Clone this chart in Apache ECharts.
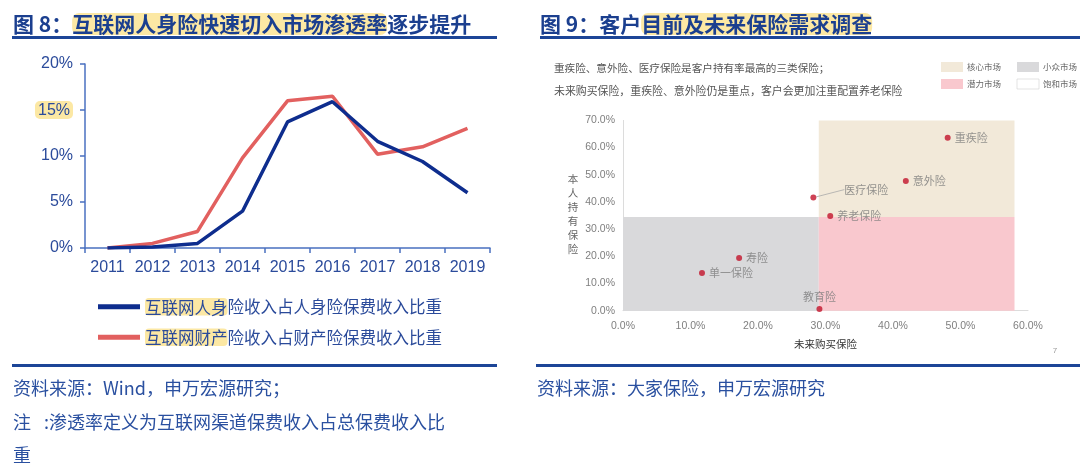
<!DOCTYPE html>
<html><head><meta charset="utf-8">
<script src="https://cdn.jsdelivr.net/npm/echarts@6/dist/echarts.min.js"></script>
<style>html,body{margin:0;padding:0;background:#fff}#c{width:1080px;height:473px}</style>
</head><body><div id="c"></div>
<script>
// ---- Figure 8 data ----
const years = ['2011','2012','2013','2014','2015','2016','2017','2018','2019'];
const lifeShare = [0, 0.1, 0.5, 4.0, 13.7, 15.9, 11.6, 9.4, 6.0];
const propShare = [0, 0.5, 1.8, 9.8, 16.0, 16.5, 10.2, 11.0, 13.0];
const lifeName = '互联网人身险收入占人身险保费收入比重';
const propName = '互联网财产险收入占财产险保费收入比重';
// ---- Figure 9 data ----
const surveyNames = ['重疾险','意外险','医疗保险','养老保险','寿险','单一保险','教育险'];
const futureBuy   = [48.1, 41.9, 28.2, 30.7, 17.2, 11.7, 29.1];
const currentHold = [63.6, 47.7, 41.6, 34.8, 19.4, 13.9, 0.6];
const marketNames = ['核心市场','小众市场','潜力市场','饱和市场'];
const xSplit = 29, xEnd = 58, ySplit = 34.5, yEnd = 70;

const CJK = '"Noto Sans CJK SC", sans-serif';
const LAT = '"Liberation Sans", Arial, sans-serif';
const NAVY = '#1b3f8f';
const HL = '#fce8a4';
const FOOT = '#2a50a0';

const chart = echarts.init(document.getElementById('c'), null, {renderer:'canvas'});

// label placement for scatter points: [position, dx, dy]
const labelPlace = {
  '重疾险':['right',4,0], '意外险':['right',0,-2], '医疗保险':['right',0,0],
  '养老保险':['right',0,-1], '寿险':['right',0,6], '单一保险':['right',5,9], '教育险':['top',-18,0]
};

const scatterData = surveyNames.map((n,i)=>{
  const p = labelPlace[n];
  return {name:n, value:[futureBuy[i], currentHold[i]],
    label:{position:p[0], offset:[p[1],p[2]], distance:4}};
});

const legendSwatch = [
  {name:marketNames[0], color:'#f2e9d9', x:941, y:62},
  {name:marketNames[1], color:'#d9d9db', x:1017, y:62},
  {name:marketNames[2], color:'#f9c8ce', x:941, y:79},
  {name:marketNames[3], color:'#ffffff', x:1017, y:79}
];

const graphic = [
  // titles
  {type:'text', x:13, y:24, style:{text:'图 8：{hl|互联网人身险快速切入市场渗透率}逐步提升',
    font:'bold 21px '+CJK, fill:NAVY, verticalAlign:'middle',
    rich:{hl:{backgroundColor:HL, borderRadius:7, fontSize:21, fontWeight:'bold', fontFamily:CJK, fill:NAVY, padding:[1,0,0,0]}}}},
  {type:'rect', shape:{x:12,y:36,width:485,height:3}, style:{fill:'#1c4597'}},
  {type:'text', x:540, y:24, style:{text:'图 9：客户{hl|目前及未来保险需求调查}',
    font:'bold 21px '+CJK, fill:NAVY, verticalAlign:'middle',
    rich:{hl:{backgroundColor:HL, borderRadius:7, fontSize:21, fontWeight:'bold', fontFamily:CJK, fill:NAVY, padding:[1,0,0,0]}}}},
  {type:'rect', shape:{x:540,y:36,width:540,height:3}, style:{fill:'#1c4597'}},
  // footers
  {type:'rect', shape:{x:12,y:364,width:485,height:3}, style:{fill:'#1c4597'}},
  {type:'rect', shape:{x:536,y:364,width:544,height:3}, style:{fill:'#1c4597'}},
  {type:'text', x:13, y:388, style:{text:'资料来源：Wind，申万宏源研究；', font:'18px '+CJK, fill:FOOT, verticalAlign:'middle'}},
  {type:'text', x:13, y:422, style:{text:'注', font:'18px '+CJK, fill:FOOT, verticalAlign:'middle'}},
  {type:'text', x:44, y:422, style:{text:':渗透率定义为互联网渠道保费收入占总保费收入比', font:'18px '+CJK, fill:FOOT, verticalAlign:'middle'}},
  {type:'text', x:13, y:455, style:{text:'重', font:'18px '+CJK, fill:FOOT, verticalAlign:'middle'}},
  {type:'text', x:537, y:388, style:{text:'资料来源：大家保险，申万宏源研究', font:'18px '+CJK, fill:FOOT, verticalAlign:'middle'}},
  // figure 9 notes
  {type:'text', x:554, y:68, style:{text:'重疾险、意外险、医疗保险是客户持有率最高的三类保险；', font:'10.6px '+CJK, fill:'#555', verticalAlign:'middle'}},
  {type:'text', x:554, y:91, style:{text:'未来购买保险，重疾险、意外险仍是重点，客户会更加注重配置养老保险', font:'10.9px '+CJK, fill:'#555', verticalAlign:'middle'}},
  // y axis name of scatter
  {type:'text', x:573, y:214, style:{text:'本\n人\n持\n有\n保\n险', font:'10.5px '+CJK, fill:'#666', align:'center', verticalAlign:'middle', lineHeight:14}},
  {type:'text', x:1055, y:351, style:{text:'7', font:'8px '+LAT, fill:'#999', align:'center', verticalAlign:'middle'}}
];
legendSwatch.forEach(s=>{
  graphic.push({type:'rect', shape:{x:s.x,y:s.y,width:22,height:10}, style:{fill:s.color, stroke: s.color==='#ffffff' ? '#d0d0d0' : null, lineWidth:0.6}});
  graphic.push({type:'text', x:s.x+26, y:s.y+5, style:{text:s.name, font:'8.5px '+CJK, fill:'#666', verticalAlign:'middle'}});
});

const option = {
  backgroundColor:'#fff',
  animation:false,
  graphic: graphic,
  legend:{
    data:[lifeName, propName], orient:'vertical', left:98, top:298, padding:0,
    itemWidth:42, itemHeight:5, itemGap:13, icon:'rect', selectedMode:false,
    textStyle:{fontSize:16.5, color:'#2a4a9a', fontFamily:CJK,
      rich:{hl:{backgroundColor:HL, borderRadius:4, fontSize:16.5, color:'#2a4a9a', fontFamily:CJK, padding:[1,0,0,0]},
            t:{fontSize:16.5, color:'#2a4a9a', fontFamily:CJK}}},
    formatter:n=>'{hl|'+n.slice(0,5)+'}{t|'+n.slice(5)+'}'
  },
  grid:[
    {left:85, right:590, top:64, bottom:225},
    {left:623, right:52, top:120.4, bottom:162.3}
  ],
  xAxis:[
    {type:'category', gridIndex:0, data:years, boundaryGap:true,
      axisLine:{lineStyle:{color:'#4a70c0', width:1.5}},
      axisTick:{show:true, length:5, interval:0, lineStyle:{color:'#4a70c0', width:1.5}},
      axisLabel:{color:'#2b4b9b', fontSize:16, fontFamily:LAT, margin:12, interval:0}},
    {type:'value', gridIndex:1, min:0, max:60, interval:10,
      axisLine:{show:true, lineStyle:{color:'#dcdcdc'}}, axisTick:{show:false}, splitLine:{show:false},
      axisLabel:{color:'#7f7f7f', fontSize:10.5, fontFamily:LAT, margin:10, formatter:v=>v.toFixed(1)+'%'},
      name:'未来购买保险', nameLocation:'middle', nameGap:28,
      nameTextStyle:{color:'#333', fontSize:10.5, fontFamily:CJK}}
  ],
  yAxis:[
    {type:'value', gridIndex:0, min:0, max:20, interval:5,
      axisLine:{show:true, lineStyle:{color:'#4a70c0', width:1.5}},
      axisTick:{show:true, length:5, lineStyle:{color:'#4a70c0', width:1.5}},
      splitLine:{show:false},
      axisLabel:{color:'#2b4b9b', fontSize:16, fontFamily:LAT, margin:12,
        formatter:v=> v===15 ? '{hl|15%}' : v+'%',
        rich:{hl:{backgroundColor:HL, borderRadius:5, padding:[2,3,0,3], fontSize:16, fontFamily:LAT, color:'#2b4b9b'}}}},
    {type:'value', gridIndex:1, min:0, max:70, interval:10,
      axisLine:{show:true, lineStyle:{color:'#dcdcdc'}}, axisTick:{show:false}, splitLine:{show:false},
      axisLabel:{color:'#7f7f7f', fontSize:10.5, fontFamily:LAT, margin:8, formatter:v=>v.toFixed(1)+'%'}}
  ],
  series:[
    {name:lifeName, type:'line', xAxisIndex:0, yAxisIndex:0, data:lifeShare, symbol:'none',
      itemStyle:{color:'#0e2d8e'}, lineStyle:{color:'#0e2d8e', width:3.5}, z:3},
    {name:propName, type:'line', xAxisIndex:0, yAxisIndex:0, data:propShare, symbol:'none',
      itemStyle:{color:'#e2605f'}, lineStyle:{color:'#e2605f', width:3.5}, z:2},
    {type:'scatter', xAxisIndex:1, yAxisIndex:1, data:[], z:1, silent:true,
      markArea:{silent:true, data:[
        [{coord:[0,0], itemStyle:{color:'#d9d9db'}}, {coord:[xSplit,ySplit]}],
        [{coord:[xSplit,0], itemStyle:{color:'#f9c8ce'}}, {coord:[xEnd,ySplit]}],
        [{coord:[xSplit,ySplit], itemStyle:{color:'#f2e9d9'}}, {coord:[xEnd,yEnd]}]
      ]}},
    {type:'scatter', xAxisIndex:1, yAxisIndex:1, data:scatterData, symbolSize:6, z:5,
      itemStyle:{color:'#c2132b'},
      label:{show:true, formatter:'{b}', color:'#7a7a7a', fontSize:11, fontFamily:CJK},
      labelLayout:p=> p.dataIndex===2 ? {dx:24, dy:-8} : {},
      labelLine:{show:false}}
  ]
};
// leader line only for 医疗保险
option.series[3].data[2].labelLine = {show:true, lineStyle:{color:'#aaa', width:0.8}};
chart.setOption(option);
</script></body></html>
